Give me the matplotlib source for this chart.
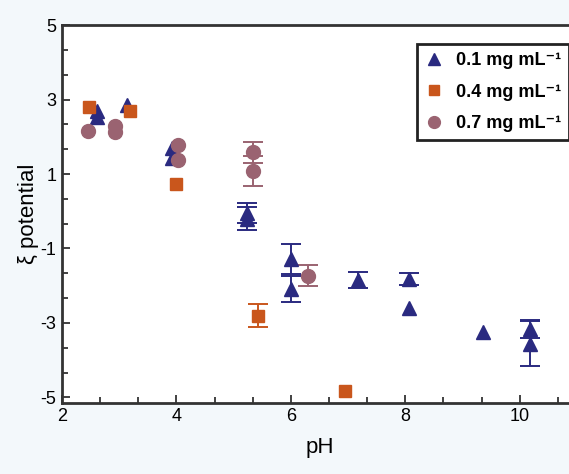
import numpy as np
import matplotlib.pyplot as plt
from matplotlib.lines import Line2D

plt.rcParams['font.family'] = ['Liberation Sans', 'DejaVu Sans']
plt.rcParams['axes.unicode_minus'] = False

# ---- data ----
ph_01 = [2.61, 2.61, 3.13, 3.92, 3.92, 5.24, 5.24, 6.00, 6.00, 7.18, 8.06, 8.06, 9.35, 10.18, 10.18]
zeta_01 = [2.68, 2.52, 2.86, 1.69, 1.43, -0.05, -0.20, -1.28, -2.10, -1.84, -1.82, -2.61, -3.25, -3.16, -3.56]
err_01 = [0.0, 0.0, 0.0, 0.0, 0.0, 0.27, 0.30, 0.40, 0.35, 0.22, 0.17, 0.0, 0.0, 0.24, 0.60]

ph_04 = [2.48, 3.19, 3.99, 5.42, 6.94]
zeta_04 = [2.79, 2.68, 0.74, -2.81, -4.84]
err_04 = [0.0, 0.0, 0.0, 0.31, 0.0]

ph_07 = [2.45, 2.93, 2.93, 4.02, 4.02, 5.33, 5.33, 6.30]
zeta_07 = [2.15, 2.29, 2.13, 1.78, 1.38, 1.58, 1.09, -1.73]
err_07 = [0.0, 0.0, 0.0, 0.0, 0.0, 0.28, 0.40, 0.28]

labels = ['0.1 mg mL⁻¹', '0.4 mg mL⁻¹', '0.7 mg mL⁻¹']
colors = ['#2a2a80', '#c9561c', '#9a6371']
markers = ['^', 's', 'o']
sizes = [10, 9, 10]

fig = plt.figure(figsize=(5.69, 4.74), dpi=100, facecolor='#f3f8fb')
ax = fig.add_axes([0.109, 0.150, 0.905, 0.797])
ax.set_facecolor('white')

series = [(ph_01, zeta_01, err_01), (ph_04, zeta_04, err_04), (ph_07, zeta_07, err_07)]
for (x, y, e), c, m, s in zip(series, colors, markers, sizes):
    x, y, e = np.array(x), np.array(y), np.array(e)
    has = e > 0
    ax.errorbar(x[has], y[has], yerr=e[has], fmt='none', ecolor=c, elinewidth=1.4,
                capsize=7, capthick=1.4, zorder=2)
    ax.plot(x, y, m, color=c, ms=s, mec=c, zorder=3)

ax.set_xlim(2, 11)
ax.set_ylim(-5.15, 5)
ax.set_xticks([2, 4, 6, 8, 10])
ax.set_xticks(np.arange(2, 11.01, 2 / 3), minor=True)
ax.set_yticks([5, 3, 1, -1, -3, -5])
ax.set_yticks(np.arange(-5, 5.01, 2 / 3), minor=True)
ax.tick_params(direction='in', which='both', top=False, right=False, labelsize=13,
               color='#333333', width=1.3, pad=4)
ax.tick_params(which='major', length=6)
ax.tick_params(which='minor', length=4)
for sp in ax.spines.values():
    sp.set_color('#333333')
    sp.set_linewidth(2)

ax.set_xlabel('pH', fontsize=16, labelpad=8)
ax.set_ylabel('ξ potential', fontsize=16, labelpad=1)

handles = [Line2D([], [], ls='none', marker=m, color=c, mec=c, ms=s * 0.85)
           for m, c, s in zip(markers, colors, sizes)]
leg = ax.legend(handles, labels, loc='upper left', bbox_to_anchor=(0.689, 0.95),
                prop={'weight': 'bold', 'size': 13}, frameon=True,
                fancybox=False, edgecolor='#222222', handletextpad=0.7,
                borderpad=0.45, labelspacing=0.8, handlelength=1.0, borderaxespad=0)
leg.get_frame().set_linewidth(2)
leg.get_frame().set_alpha(1)

plt.savefig('out.png', dpi=100, facecolor=fig.get_facecolor())
